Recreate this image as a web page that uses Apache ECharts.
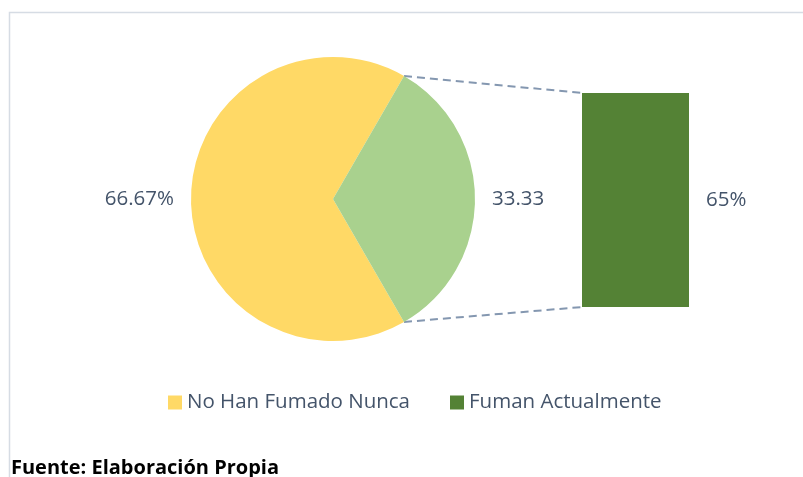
<!DOCTYPE html>
<html>
<head>
<meta charset="utf-8">
<script src="https://cdn.jsdelivr.net/npm/echarts@6/dist/echarts.min.js"></script>
<style>
  html, body { margin: 0; padding: 0; background: #fff; }
  #myChart { width: 803px; height: 477px; }
</style>
</head>
<body>
<div id="myChart"></div>
<script>
// pie data: the green slice gets split into the bar on the right
const pieNames = ['No Han Fumado Nunca', 'Otro'];
const pieValues = [66.67, 33.33];
const pieColors = ['#FFD966', '#A9D18E'];

const barName = 'Fuman Actualmente';
const barCategories = ['Fuman'];
const barValues = [65];
const barColor = '#548235';

const textColor = '#44546A';
const font = "'Open Sans', sans-serif";

// layout
const pieCenter = [333, 199];
const pieRadius = 142;
const barGrid = { left: 582, top: 93, width: 107, height: 214 };

const myChart = echarts.init(document.getElementById('myChart'));

const total = pieValues[0] + pieValues[1];
const halfGreen = pieValues[1] / total * 180;
const startAngle = halfGreen + pieValues[0] / total * 360;

const option = {
  animation: false,
  textStyle: { fontFamily: font },
  title: {
    text: 'Fuente: Elaboración Propia',
    left: 11,
    top: 458,
    padding: 0,
    textStyle: { fontFamily: font, fontSize: 20, fontWeight: 'bold', color: '#000' }
  },
  legend: {
    left: 168,
    top: 392,
    padding: 0,
    itemWidth: 14,
    itemHeight: 14,
    itemGap: 40,
    icon: 'rect',
    textStyle: { fontFamily: font, fontSize: 20.5, color: textColor },
    data: [pieNames[0], barName]
  },
  grid: {
    left: barGrid.left,
    top: barGrid.top,
    width: barGrid.width,
    height: barGrid.height,
    containLabel: false
  },
  xAxis: { type: 'category', data: barCategories, show: false },
  yAxis: { type: 'value', min: 0, max: barValues[0], show: false },
  series: [
    {
      type: 'pie',
      center: pieCenter,
      radius: pieRadius,
      startAngle: startAngle,
      clockwise: true,
      emphasis: { disabled: true },
      label: {
        show: true,
        position: 'outside',
        fontFamily: font,
        fontSize: 20.5,
        color: textColor,
        distanceToLabelLine: 5,
        padding: [3, 0, 0, 0]
      },
      labelLine: { show: false, length: 6, length2: 6 },
      data: [
        { name: pieNames[0], value: pieValues[0], itemStyle: { color: pieColors[0] }, label: { formatter: '{c}%' } },
        { name: pieNames[1], value: pieValues[1], itemStyle: { color: pieColors[1] }, label: { formatter: '{c}' } }
      ]
    },
    {
      name: barName,
      type: 'bar',
      barWidth: '100%',
      itemStyle: { color: barColor },
      emphasis: { disabled: true },
      label: {
        show: true,
        position: 'right',
        distance: 17,
        formatter: '{c}%',
        fontFamily: font,
        fontSize: 20.5,
        color: textColor,
        padding: [3, 0, 0, 0]
      },
      data: barValues
    }
  ]
};

myChart.setOption(option);

// dashed connectors from the green slice edges to the bar corners
const rad = halfGreen * Math.PI / 180;
const edgeX = pieCenter[0] + pieRadius * Math.cos(rad);
const edgeTopY = pieCenter[1] - pieRadius * Math.sin(rad);
const edgeBotY = pieCenter[1] + pieRadius * Math.sin(rad);
const barTop = myChart.convertToPixel({ gridIndex: 0 }, [0, barValues[0]]);
const barBot = myChart.convertToPixel({ gridIndex: 0 }, [0, 0]);
const barLeftX = barTop[0] - barGrid.width / 2;

const lineStyle = { stroke: '#8497B0', lineWidth: 2, lineDash: [8, 5] };

myChart.setOption({
  graphic: [
    {
      type: 'rect',
      silent: true,
      z: -1,
      shape: { x: 9.5, y: 12.5, width: 820, height: 500 },
      style: { fill: null, stroke: '#D6DCE4', lineWidth: 1.5 }
    },
    {
      type: 'line',
      silent: true,
      shape: { x1: edgeX, y1: edgeTopY, x2: barLeftX, y2: barTop[1] },
      style: lineStyle
    },
    {
      type: 'line',
      silent: true,
      shape: { x1: edgeX, y1: edgeBotY, x2: barLeftX, y2: barBot[1] },
      style: lineStyle
    }
  ]
});
</script>
</body>
</html>
